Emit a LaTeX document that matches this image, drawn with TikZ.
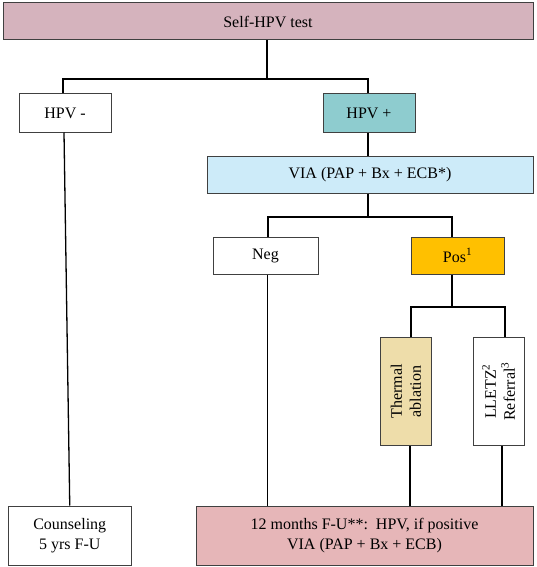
\documentclass[tikz,border=0pt]{standalone}
\usepackage{fontspec}
\setmainfont{Liberation Serif}
\definecolor{topc}{HTML}{D5B3BD}
\definecolor{tealc}{HTML}{8ECCCF}
\definecolor{viac}{HTML}{CDEBF9}
\definecolor{posc}{HTML}{FFC000}
\definecolor{thermc}{HTML}{EEDDAA}
\definecolor{fuc}{HTML}{E6B6B8}
\definecolor{edgec}{HTML}{404040}
\begin{document}
\begin{tikzpicture}[x=1pt,y=-1pt,
  box/.style={draw=edgec,line width=1pt,inner sep=0pt,align=center,
    font=\fontsize{16}{20}\selectfont},
  link/.style={line width=1.3pt,black}]
\useasboundingbox (0,0) rectangle (536,567);
\node[box,fill=topc,minimum width=530,minimum height=37] (top) at (268,21.5) {Self-HPV test};
\node[box,fill=white,minimum width=92,minimum height=38] (hpvneg) at (65,113) {HPV -};
\node[box,fill=tealc,minimum width=92,minimum height=38] (hpvpos) at (369,113) {HPV +};
\node[box,fill=viac,minimum width=326,minimum height=37] (via) at (370,174.5) {VIA (PAP + Bx + ECB*)};
\node[box,fill=white,minimum width=105,minimum height=37] (neg) at (265.5,255.5) {Neg};
\node[box,fill=posc,minimum width=93,minimum height=37] (pos) at (457.5,255.5) {Pos\textsuperscript{1}};
\node[box,fill=thermc,minimum width=51,minimum height=108] (therm) at (406,391.5) {};
\node[rotate=90,align=center,font=\fontsize{16}{19}\selectfont] (thermtxt) at (therm.center) {Thermal\\ablation};
\node[box,fill=white,minimum width=51,minimum height=108] (lletz) at (498.5,391.5) {};
\node[rotate=90,align=center,font=\fontsize{16}{19}\selectfont] (lletztxt) at (lletz.center) {LLETZ\textsuperscript{2}\\Referral\textsuperscript{3}};
\node[box,fill=white,minimum width=122.5,minimum height=59] (couns) at (69.75,535.5) {Counseling\\5 yrs F-U};
\node[box,fill=fuc,minimum width=337,minimum height=59] (fu) at (364.5,535.5) {12 months F-U**:\ \ HPV, if positive\\VIA (PAP + Bx + ECB)};
% connectors
\coordinate (b1) at (267,79);
\coordinate (b2) at (368,217);
\coordinate (b3) at (452,307);
\draw[link] (top.south -| b1) -- (b1);
\draw[link] ([xshift=-2pt]hpvneg.north) |- (b1) -| ([xshift=-1pt]hpvpos.north);
\draw[link] ([xshift=-1pt]hpvpos.south) -- (via.north -| b2);
\draw[link] (via.south -| b2) -- (b2);
\draw[link] ([xshift=2.5pt]neg.north) |- (b2) -| ([xshift=-5.5pt]pos.north);
\draw[link] (pos.south -| b3) -- (b3);
\draw[link] ([xshift=5pt]therm.north) |- (b3) -| ([xshift=6.5pt]lletz.north);
\draw[link] ([xshift=-1pt]hpvneg.south) -- ([xshift=0pt]couns.north);
\draw[link] ([xshift=2pt]neg.south) -- (fu.north -| 267.5,0);
\draw[link] ([xshift=4pt]therm.south) -- (fu.north -| 410,0);
\draw[link] ([xshift=3.5pt]lletz.south) -- (fu.north -| 502,0);
\end{tikzpicture}
\end{document}
